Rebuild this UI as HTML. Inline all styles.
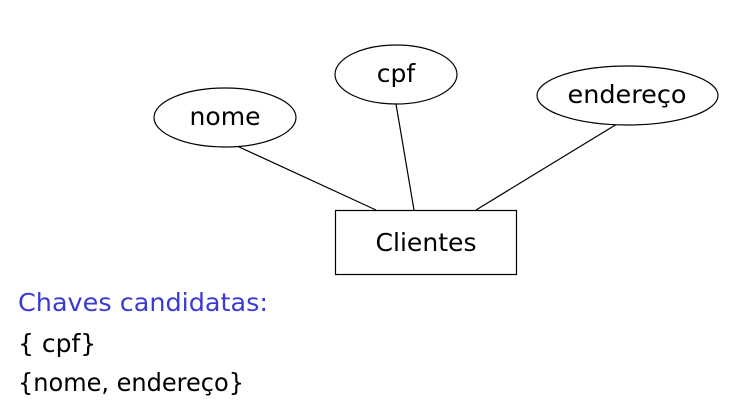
<!DOCTYPE html>
<html><head><meta charset="utf-8"><style>
html,body{margin:0;padding:0;background:#fff;width:737px;height:420px;overflow:hidden}
svg text{font-family:"DejaVu Sans","Liberation Sans",sans-serif}
</style></head><body>
<svg width="737" height="420" viewBox="0 0 737 420" xmlns="http://www.w3.org/2000/svg">
<g fill="none" stroke="#000" stroke-width="1.2">
<line x1="237" y1="146" x2="376" y2="210"/>
<line x1="396" y1="104" x2="414" y2="210"/>
<line x1="617" y1="124" x2="476" y2="210"/>
<ellipse cx="225" cy="117.5" rx="71" ry="29.5" fill="#fff"/>
<ellipse cx="396" cy="74.5" rx="61" ry="29.5" fill="#fff"/>
<ellipse cx="627.5" cy="95.5" rx="90.5" ry="29.5" fill="#fff"/>
<rect x="335.5" y="210.5" width="181" height="64" fill="#fff"/>
</g>
<g font-size="25" fill="#000" text-anchor="middle">
<text x="225" y="125" textLength="71" lengthAdjust="spacingAndGlyphs">nome</text>
<text x="396" y="82">cpf</text>
<text x="627" y="103" textLength="119" lengthAdjust="spacingAndGlyphs">endereço</text>
<text x="426" y="251" textLength="101" lengthAdjust="spacingAndGlyphs">Clientes</text>
</g>
<text x="18" y="311" font-size="25" fill="#3b3bd4" textLength="250" lengthAdjust="spacingAndGlyphs">Chaves candidatas:</text>
<text x="18" y="352" font-size="25" fill="#000">{ cpf}</text>
<text x="18" y="391" font-size="25" fill="#000" textLength="226" lengthAdjust="spacingAndGlyphs">{nome, endereço}</text>
</svg>
</body></html>
